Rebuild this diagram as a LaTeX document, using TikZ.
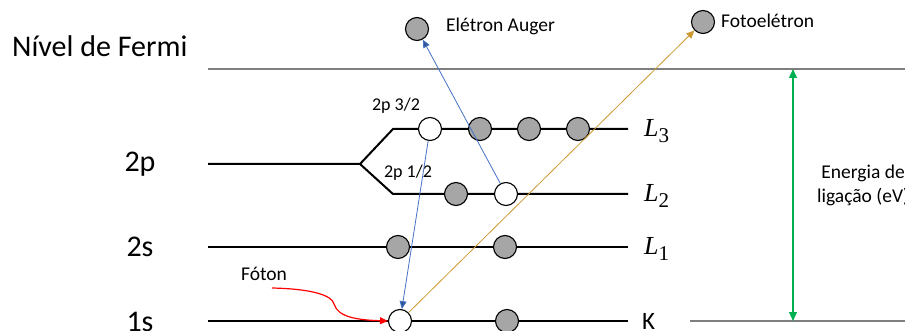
\documentclass[tikz,border=0pt]{standalone}
\usepackage{fontspec}
\setmainfont{Carlito}
\newfontfamily\lvlfont{Liberation Serif}
\usetikzlibrary{arrows.meta}

\definecolor{fillgray}{RGB}{166,166,166}
\definecolor{refgray}{RGB}{127,127,127}
\definecolor{augerblue}{RGB}{68,114,196}
\definecolor{tipblue}{RGB}{47,85,151}
\definecolor{photogold}{RGB}{204,153,51}
\definecolor{bindgreen}{RGB}{0,176,80}

\newcommand{\shell}[1]{{\lvlfont\fontsize{26}{28}\selectfont\itshape L}\raisebox{-6pt}{\lvlfont\fontsize{21}{23}\selectfont #1}}

\tikzset{
  level/.style={line width=2pt, black},
  refline/.style={line width=2pt, refgray},
  electron/.style={circle, draw=black, line width=1.1pt, minimum size=23pt, inner sep=0pt},
  filled/.style={electron, fill=fillgray},
  hole/.style={electron, fill=white},
  big/.style={font=\fontsize{30}{34}\selectfont, inner sep=0pt},
  small/.style={font=\fontsize{19.5}{24}\selectfont, inner sep=0pt},
  tiny/.style={font=\fontsize{18}{20}\selectfont, inner sep=0pt},
}

\begin{document}
\begin{tikzpicture}[x=1pt,y=-1pt]
\useasboundingbox (0,0) rectangle (905,331);
\clip (0,0) rectangle (905,331);

% reference levels
\coordinate (fermiL) at (208,69);
\coordinate (fermiR) at (905,69);
\coordinate (kR1) at (690,321);
\coordinate (kR2) at (905,321);
\draw[refline] (fermiL) -- (fermiR);
\draw[refline] (kR1) -- (kR2);

% 2p level with spin-orbit splitting
\coordinate (p0) at (208,164);
\coordinate (pb) at (360,164);
\coordinate (p3a) at (393,129);
\coordinate (p3b) at (628,129);
\coordinate (p1a) at (393,194);
\coordinate (p1b) at (628,194);
\draw[level, line join=miter] (p0) -- (pb) -- (p3a) -- (p3b);
\draw[level, line join=miter] (pb) -- (p1a) -- (p1b);

% 2s and 1s levels
\coordinate (s2a) at (208,247);
\coordinate (s2b) at (628,247);
\coordinate (s1a) at (208,321);
\coordinate (s1b) at (628,321);
\draw[level] (s2a) -- (s2b);
\draw[level] (s1a) -- (s1b);

% level names
\node[big, anchor=west] (fermi) at (12,46) {Nível de Fermi};
\node[big] (n2p) at (140,164) {2p};
\node[big] (n2s) at (140,247) {2s};
\node[big] (n1s) at (140,322) {1s};
\node[tiny] (j32) at (396,106) {2p 3/2};
\node[tiny] (j12) at (408,173) {2p 1/2};

% shell labels
\node[anchor=west, inner sep=0pt] (lL3) at (644,131) {\shell{3}};
\node[anchor=west, inner sep=0pt] (lL2) at (644,196) {\shell{2}};
\node[anchor=west, inner sep=0pt] (lL1) at (644,249) {\shell{1}};
\node[anchor=west, inner sep=0pt, font=\fontsize{25}{28}\selectfont] (lK) at (642,321) {K};

% electrons and holes
\node[hole]   (h32) at (430,129) {};
\node[filled] (e3a) at (480,129) {};
\node[filled] (e3b) at (529,129) {};
\node[filled] (e3c) at (578,129) {};
\node[filled] (e2a) at (456,194) {};
\node[hole]   (h12) at (506,194) {};
\node[filled] (e1a) at (398,247) {};
\node[filled] (e1b) at (505,247) {};
\node[hole]   (hk)  at (400,321) {};
\node[filled] (eka) at (507,321) {};

% emitted electrons
\node[filled] (auger) at (417,29) {};
\node[small, anchor=west] (augerlbl) at (446,26) {Elétron Auger};
\node[filled] (foto) at (703,22) {};
\node[small, anchor=west] (fotolbl) at (721,21) {Fotoelétron};

% transitions
\draw[augerblue, line width=0.8pt, -{Triangle[length=8pt,width=7pt,fill=tipblue]}] (h12) -- (auger);
\draw[augerblue, line width=0.8pt, -{Triangle[length=8pt,width=7pt,fill=tipblue]}] (h32) -- (hk);
\draw[photogold, line width=0.8pt, -{Triangle[length=8pt,width=7pt]}] (hk) -- (foto);

% incoming photon
\node[small] (photon) at (264,274) {Fóton};
\coordinate (ph0) at (272,288);
\draw[red, line width=1.2pt, -{Triangle[length=8pt,width=7pt]}]
  (ph0) .. controls (315,289) and (332,296) .. (334,304)
        .. controls (338,318) and (360,320) .. (hk.west);

% binding energy
\coordinate (bt) at (793,69);
\coordinate (bb) at (793,321);
\draw[bindgreen, line width=1.2pt, {Triangle[length=9pt,width=8pt]}-{Triangle[length=9pt,width=8pt]}] (bt) -- (bb);
\node[small, align=center, anchor=west] (bind) at (817,185) {Energia de\\ligação (eV)};
\end{tikzpicture}
\end{document}
